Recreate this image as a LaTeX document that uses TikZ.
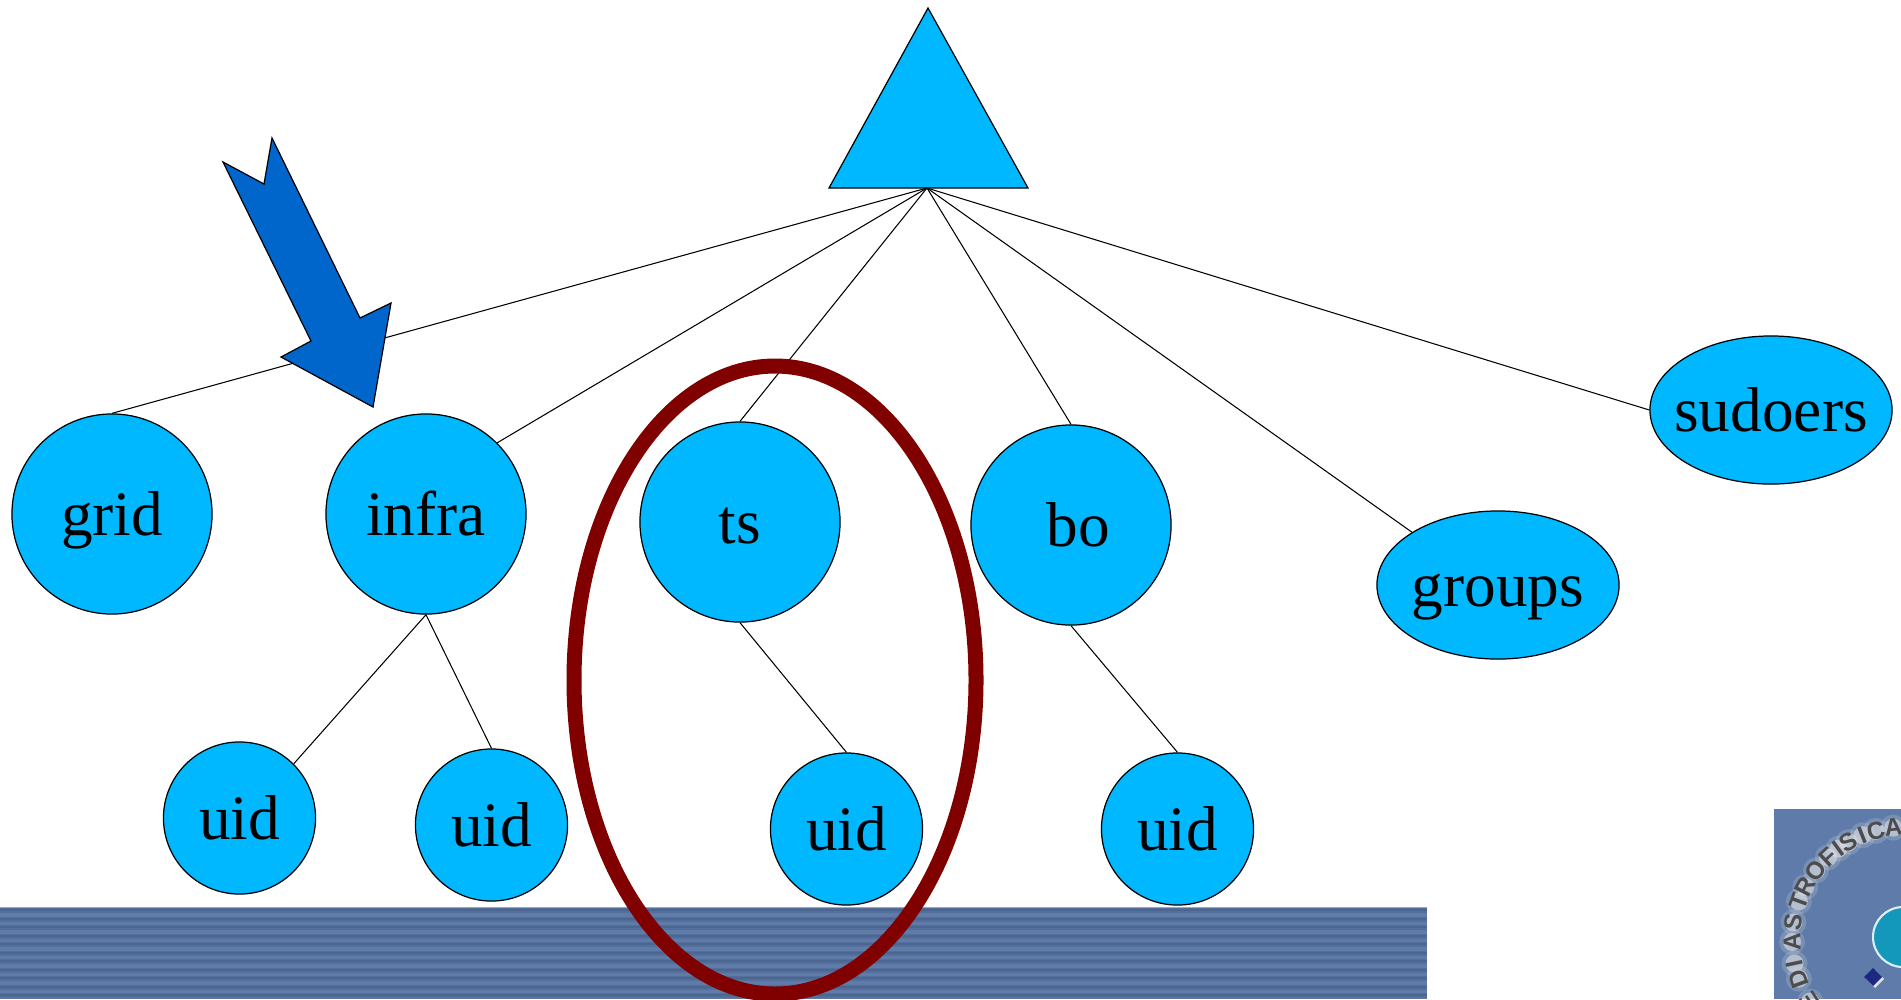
\documentclass[tikz,border=0pt]{standalone}
\usepackage{fontspec}
\setmainfont{Liberation Serif}
\newfontfamily\logofont{Liberation Sans}
\usetikzlibrary{positioning,shapes.geometric}
\definecolor{nodeblue}{HTML}{00B8FF}
\definecolor{arrowblue}{HTML}{0066CC}
\definecolor{ringred}{HTML}{800000}
\definecolor{bardark}{HTML}{4C6692}
\definecolor{barmid}{HTML}{546F9C}
\definecolor{barlight}{HTML}{5F7BA8}
\definecolor{logoblue}{HTML}{5F7BAA}
\definecolor{logoteal}{HTML}{1398BC}
\definecolor{logoink}{HTML}{1B2A80}
\begin{document}
\begin{tikzpicture}[
  x=.01cm, y=-.01cm,
  bignode/.style={circle, draw=black, fill=nodeblue, line width=.35pt, minimum size=2cm, inner sep=0pt,
    text height=.434cm, text depth=0pt, font=\fontsize{18}{20}\selectfont},
  uidnode/.style={bignode, minimum size=1.52cm},
  ovalnode/.style={ellipse, bignode, ellipse, minimum width=2.42cm, minimum height=1.48cm},
  link/.style={draw=black, line width=.3pt},
  logoletter/.style={font=\logofont\bfseries\fontsize{7}{7}\selectfont, text=black!70, inner sep=0pt}
]
\useasboundingbox (0,0) rectangle (1901,999);
% Striped bar along the bottom.
\fill[barlight] (0,907) rectangle (1427,999);
\foreach \y in {908,916.5,...,999} {
  \fill[barmid] (0,\y) rectangle (1427,\y+5);
  \fill[bardark] (0,\y+1) rectangle (1427,\y+3);
}
\fill[gray!70] (0,906.5) rectangle (1427,907.5);
% Logo in the corner.
\begin{scope}
  \clip (1774,809) rectangle (1901,999);
  \fill[logoblue] (1774,809) rectangle (1901,999);
  \foreach \a in {96,105,112,120,126,133,142,152,160,171,181,192,200,213} {
    \fill[white!80!gray, opacity=.2] ({1905+113*cos(\a)},{940-113*sin(\a)}) circle (13);
    \fill[white!80!gray, opacity=.55] ({1905+113*cos(\a)},{940-113*sin(\a)}) circle (9);
  }
  \foreach \ch/\a in {A/96,C/105,I/112,S/120,I/126,F/133,O/142,R/152,T/160,S/171,A/181,I/192,D/200,E/213}
    \node[logoletter, rotate=\a-90] at ({1905+113*cos(\a)},{940-113*sin(\a)}) {\ch};
  \fill[logoteal] (1903,937) circle (30);
  \draw[white!85!logoteal, line width=.6pt] (1903,937) circle (30);
  \fill[white!75!gray] (1875,970) -- (1884,979) -- (1875,988) -- (1866,979) -- cycle;
  \fill[logoink] (1873,968) -- (1882,977) -- (1873,986) -- (1864,977) -- cycle;
\end{scope}
% Tree.
\coordinate (root) at (927,188);
\node[bignode] (grid) at (112,514) {\makebox[0pt]{grid}};
\node[bignode] (infra) at (426,514) {\makebox[0pt]{infra}};
\node[bignode] (ts) at (740,522) {\makebox[0pt]{ts}};
\node[bignode] (bo) at (1071,525) {\makebox[0pt]{\kern.14cm bo}};
\node[uidnode] (uidA) at (239.5,818) {\makebox[0pt]{uid}};
\node[uidnode] (uidB) at (491.5,825) {\makebox[0pt]{uid}};
\node[uidnode] (uidC) at (846.5,829) {\makebox[0pt]{uid}};
\node[uidnode] (uidD) at (1177.5,829) {\makebox[0pt]{uid}};
\node[ovalnode] (groups) at (1498,585) {\makebox[0pt]{groups}};
\node[ovalnode] (sudoers) at (1771,410) {\makebox[0pt]{sudoers}};
\draw[link] (root) -- (grid.north);
\draw[link] (root) -- (infra.45);
\draw[link] (root) -- (ts.north);
\draw[link] (root) -- (bo.north);
\draw[link] (root) -- (groups.north west);
\draw[link] (root) -- (sudoers.west);
\draw[link] (infra.south) -- (uidA.45);
\draw[link] (infra.south) -- (uidB.north);
\draw[link] (ts.south) -- (uidC.north);
\draw[link] (bo.south) -- (uidD.north);
\draw[draw=black, fill=nodeblue, line width=.35pt] (928,8) -- (1028,188) -- (829,188) -- cycle;
% Arrow and selection ring.
\draw[draw=black, fill=arrowblue, line width=.35pt]
  (272,138) -- (360,318) -- (391,303) -- (373,407) -- (281,357) -- (311,341) -- (223,162) -- (264,184) -- cycle;
\draw[ringred, line width=.15cm] (775,680) ellipse (201 and 314);
\end{tikzpicture}
\end{document}
